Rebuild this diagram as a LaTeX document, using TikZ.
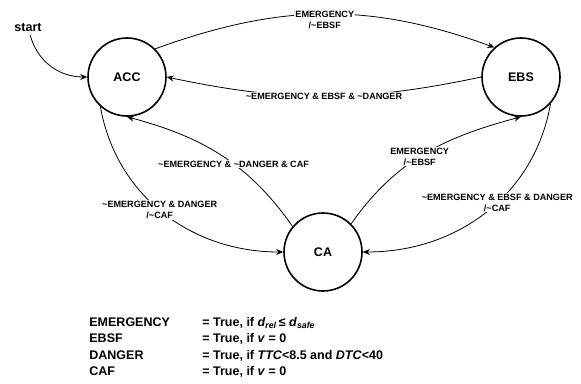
\documentclass[tikz,border=0pt]{standalone}
\usepackage{fontspec}
\setmainfont{Liberation Sans}
\usetikzlibrary{arrows.meta}
\newcommand{\nt}{\textasciitilde}

\begin{document}
\begin{tikzpicture}[x=1pt, y=-1pt, line width=0.8pt, >={Stealth[length=7pt,width=6pt]},
    ctrlstate/.style={circle, draw, line width=1.6pt, minimum size=78pt, inner sep=0pt, font=\fontsize{12.5}{15}\bfseries},
    cond/.style={fill=white, inner sep=1pt, align=center, font=\fontsize{9.1}{10.8}\bfseries}]
    \useasboundingbox (0,0) rectangle (581,383);
    \node[ctrlstate] (acc) at (127,77) {ACC};
    \node[ctrlstate] (ebs) at (521,77) {EBS};
    \node[ctrlstate] (ca) at (323,252) {CA};
    \node[font=\fontsize{12.5}{15}\bfseries] (start) at (28,27) {start};
    \draw[->] (start) to[out=-75, in=180] (acc);
    \draw[->] (acc.45) to[out=20, in=160]
        node[cond, pos=0.5, yshift=-6pt] {EMERGENCY\\/\nt EBSF} (ebs.132);
    \draw[->] (ebs.west) to[bend left=12]
        node[cond, pos=0.5] {\nt EMERGENCY \& EBSF \& \nt DANGER} (acc.east);
    \draw[->] (acc.228) to[out=-80, in=180]
        node[cond, pos=0.48] {\nt EMERGENCY \& DANGER\\/\nt CAF} (ca);
    \draw[->] (ca.140) to[out=125, in=-15]
        node[cond, pos=0.42] {\nt EMERGENCY \& \nt DANGER \& CAF} (acc.south);
    \draw[->] (ca.45) to[out=55, in=195]
        node[cond, pos=0.47] {EMERGENCY\\/\nt EBSF} (ebs.south);
    \draw[->] (ebs.-42) to[out=-100, in=0]
        node[cond, pos=0.44] {\nt EMERGENCY \& EBSF \& DANGER\\/\nt CAF} (ca);
    % legend
    \node[anchor=base west, inner sep=0pt, font=\fontsize{12.5}{16.3}\bfseries] (legend) at (89,326.5) {%
        \begin{tabular}[t]{@{}p{113pt}@{}l@{}}
        EMERGENCY & = True, if \textit{d}\textsubscript{\textit{rel}}\,≤ \textit{d}\textsubscript{\textit{safe}}\\
        EBSF & = True, if \textit{v} = 0\\
        DANGER & = True, if \textit{TTC}<8.5 and \textit{DTC}<40\\
        CAF & = True, if \textit{v} = 0
        \end{tabular}};
\end{tikzpicture}
\end{document}
